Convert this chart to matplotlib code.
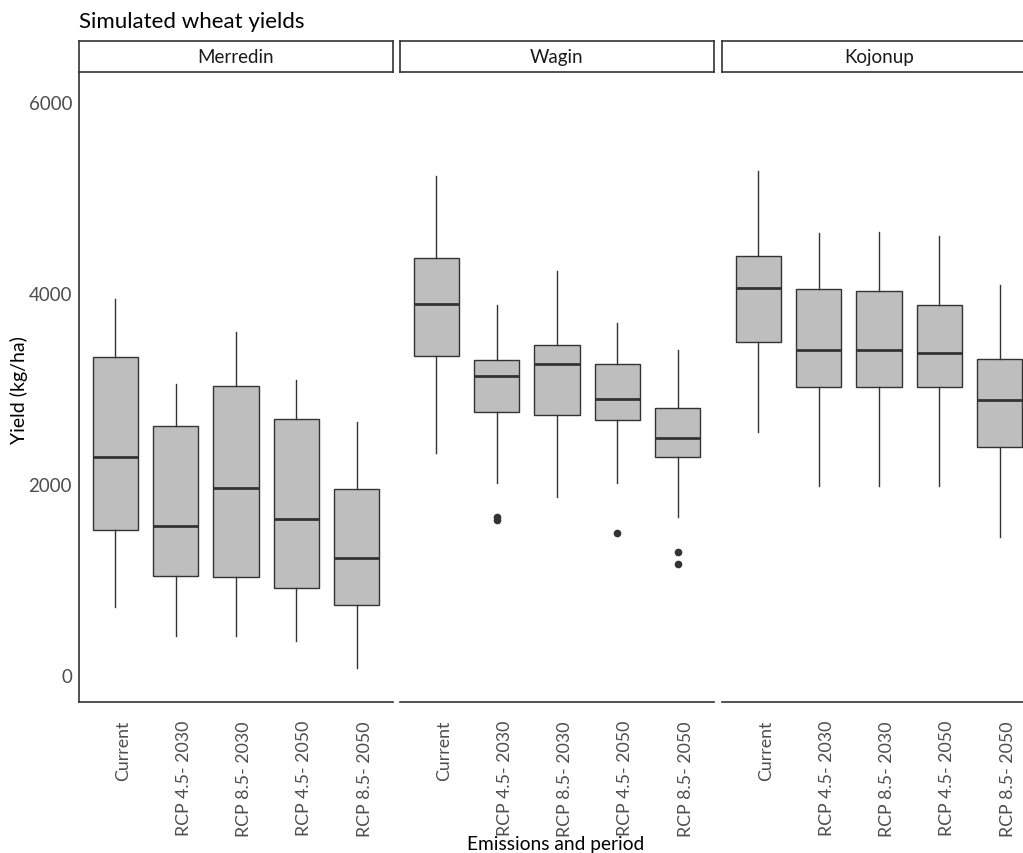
import matplotlib
matplotlib.use("Agg")
import matplotlib.pyplot as plt
from matplotlib.transforms import ScaledTranslation

plt.rcParams['font.family'] = ['Lato', 'DejaVu Sans']

sites = ["Merredin", "Wagin", "Kojonup"]
categories = ["Current", "RCP 4.5- 2030", "RCP 8.5- 2030", "RCP 4.5- 2050", "RCP 8.5- 2050"]

merredin_whislo = [709, 405, 405, 360, 70]
merredin_q1 = [1518, 1033, 1023, 908, 736]
merredin_med = [2279, 1563, 1961, 1637, 1228]
merredin_q3 = [3333, 2610, 3029, 2677, 1944]
merredin_whishi = [3937, 3043, 3588, 3089, 2646]
merredin_fliers = [[], [], [], [], []]

wagin_whislo = [2324, 2010, 1860, 2010, 1658]
wagin_q1 = [3343, 2757, 2722, 2667, 2286]
wagin_med = [3881, 3134, 3259, 2890, 2485]
wagin_q3 = [4369, 3298, 3458, 3253, 2792]
wagin_whishi = [5221, 3877, 4227, 3685, 3403]
wagin_fliers = [[], [1628, 1652], [], [1483], [1291, 1165]]

kojonup_whislo = [2541, 1976, 1976, 1976, 1445]
kojonup_q1 = [3490, 3016, 3016, 3016, 2384]
kojonup_med = [4052, 3406, 3406, 3375, 2883]
kojonup_q3 = [4390, 4042, 4017, 3874, 3309]
kojonup_whishi = [5274, 4625, 4635, 4600, 4080]
kojonup_fliers = [[], [], [], [], []]

site_data = {
    "Merredin": (merredin_whislo, merredin_q1, merredin_med, merredin_q3, merredin_whishi, merredin_fliers),
    "Wagin": (wagin_whislo, wagin_q1, wagin_med, wagin_q3, wagin_whishi, wagin_fliers),
    "Kojonup": (kojonup_whislo, kojonup_q1, kojonup_med, kojonup_q3, kojonup_whishi, kojonup_fliers),
}

W, H = 1023, 854
fig = plt.figure(figsize=(W / 100, H / 100), dpi=100)

panel_left_px = [79, 400, 722]
panel_w_px = 314
top_px, bot_px = 73, 703
strip_top_px = 42

edge = "#333333"
fill = "#bebebe"

for i, site in enumerate(sites):
    l = panel_left_px[i] / W
    b = 1 - bot_px / H
    h = (bot_px - top_px) / H
    ax = fig.add_axes([l, b, panel_w_px / W, h])
    wl, q1, md, q3, wh, fl = site_data[site]
    stats = []
    for j in range(len(categories)):
        stats.append(dict(whislo=wl[j], q1=q1[j], med=md[j], q3=q3[j], whishi=wh[j], fliers=fl[j], label=categories[j]))
    ax.bxp(stats, positions=range(1, 6), widths=0.75, patch_artist=True, showcaps=False,
           boxprops=dict(facecolor=fill, edgecolor=edge, linewidth=1.0),
           medianprops=dict(color=edge, linewidth=2.0),
           whiskerprops=dict(color=edge, linewidth=1.0),
           flierprops=dict(marker='o', markerfacecolor=edge, markeredgecolor=edge, markersize=4.5))
    ax.set_xlim(0.4, 5.6)
    ax.set_ylim(-283, 6314)
    for s in ['top', 'right']:
        ax.spines[s].set_visible(False)
    ax.spines['bottom'].set_color('#333333')
    ax.spines['bottom'].set_linewidth(1.2)
    if i == 0:
        ax.spines['left'].set_color('#333333')
        ax.spines['left'].set_linewidth(1.2)
        ax.set_yticks([0, 2000, 4000, 6000])
        ax.tick_params(axis='y', length=0, pad=5, labelsize=13.5, labelcolor='#4d4d4d')
    else:
        ax.spines['left'].set_visible(False)
        ax.set_yticks([])
    ax.set_xticks(range(1, 6))
    ax.set_xticklabels(categories, rotation=90, va='top', ha='center')
    ax.tick_params(axis='x', length=0, pad=13, labelsize=12.8, labelcolor='#4d4d4d')
    for lab in ax.get_xticklabels():
        lab.set_transform(lab.get_transform() + ScaledTranslation(8 / 100, 0, fig.dpi_scale_trans))
    # strip
    sax = fig.add_axes([l, 1 - top_px / H, panel_w_px / W, (top_px - strip_top_px) / H])
    sax.set_xticks([]); sax.set_yticks([])
    for s in sax.spines.values():
        s.set_color('#333333'); s.set_linewidth(1.2)
    sax.text(0.5, 0.5, site, ha='center', va='center', fontsize=13.5, color='#1a1a1a', transform=sax.transAxes)

fig.text(79 / W, 1 - 22 / H, "Simulated wheat yields", ha='left', va='center', fontsize=16, color='black')
fig.text(19 / W, 1 - 390 / H, "Yield (kg/ha)", rotation=90, ha='center', va='center', fontsize=14, color='black')
fig.text(556 / W, 1 - 845 / H, "Emissions and period", ha='center', va='center', fontsize=13.8, color='black')

fig.savefig("out.png", dpi=100)
